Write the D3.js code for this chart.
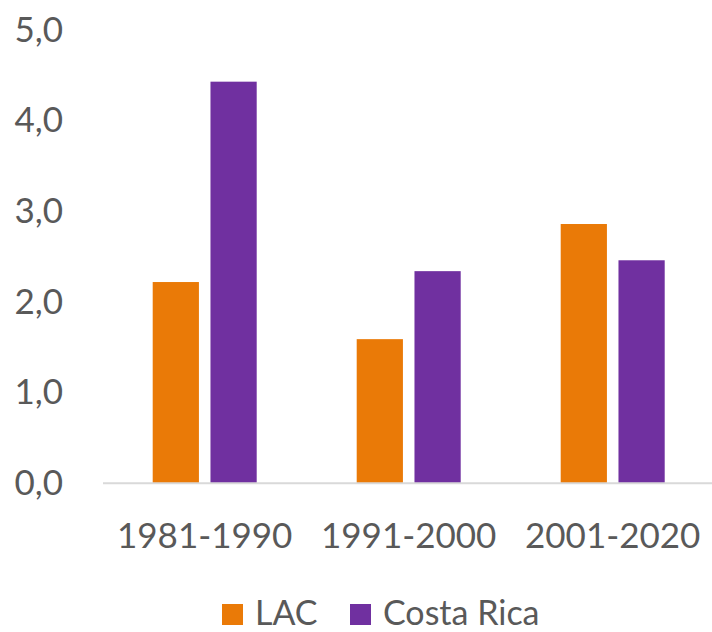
<!DOCTYPE html>
<html>
<head>
<meta charset="utf-8">
<script src="https://cdn.jsdelivr.net/npm/d3@7"></script>
<style>
  html, body { margin: 0; padding: 0; background: #fff; }
  svg { display: block; }
  text { font-family: Lato, "Open Sans", sans-serif; fill: #595959; }
</style>
</head>
<body>
<svg id="chart" width="712" height="632"></svg>
<script>
// Periods on the x axis
const periods = ["1981-1990", "1991-2000", "2001-2020"];
// Series
const seriesNames = ["LAC", "Costa Rica"];
const lacValues = [2.22, 1.59, 2.86];
const costaRicaValues = [4.43, 2.34, 2.46];
const seriesColors = ["#EA7A07", "#7030A0"];
// Y ticks
const yTicks = [0, 1, 2, 3, 4, 5];

const svg = d3.select("#chart");
const W = 712, H = 632;
const FONT = "35px";

const x0 = d3.scaleBand().domain(periods).range([102.7, 714.7]).padding(0);
const x1 = d3.scaleBand().domain(seriesNames).range([50, 154]).paddingInner(0.2).paddingOuter(0);
const y = d3.scaleLinear().domain([0, 5]).range([483.3, 30]);

const fmt = v => d3.format(".1f")(v).replace(".", ",");

// Y axis labels (no line, no ticks)
const yAxis = svg.append("g")
  .attr("transform", "translate(63,0)")
  .call(d3.axisLeft(y).tickValues(yTicks).tickFormat(fmt).tickSize(0).tickPadding(0));
yAxis.select(".domain").remove();
yAxis.selectAll("text").style("font-size", FONT).attr("fill", "#595959").attr("font-family", null);

// Bars
const rows = periods.map((p, i) => ({ period: p, values: [lacValues[i], costaRicaValues[i]] }));
const groups = svg.append("g").selectAll("g").data(rows).join("g")
  .attr("transform", d => `translate(${x0(d.period)},0)`);
groups.selectAll("rect")
  .data(d => d.values.map((v, k) => ({ name: seriesNames[k], value: v, color: seriesColors[k] })))
  .join("rect")
  .attr("x", d => x1(d.name))
  .attr("width", x1.bandwidth())
  .attr("y", d => y(d.value))
  .attr("height", d => y(0) - y(d.value))
  .attr("fill", d => d.color);

// X axis baseline and category labels
const xAxis = svg.append("g")
  .attr("transform", `translate(0,${y(0)})`)
  .call(d3.axisBottom(x0).tickSize(0).tickPadding(40));
xAxis.select(".domain").attr("stroke", "#d9d9d9").attr("stroke-width", 2)
  .attr("d", `M103,0H${W}`);
xAxis.selectAll("text").style("font-size", FONT).attr("fill", "#595959").attr("font-family", null);

// Legend
const legend = svg.append("g");
const legendItems = [
  { name: seriesNames[0], color: seriesColors[0], x: 222 },
  { name: seriesNames[1], color: seriesColors[1], x: 350 }
];
const li = legend.selectAll("g").data(legendItems).join("g")
  .attr("transform", d => `translate(${d.x},0)`);
li.append("rect").attr("x", 0).attr("y", 604).attr("width", 21).attr("height", 21)
  .attr("fill", d => d.color);
li.append("text").attr("x", 33).attr("y", 625).style("font-size", "34px").text(d => d.name);
</script>
</body>
</html>
